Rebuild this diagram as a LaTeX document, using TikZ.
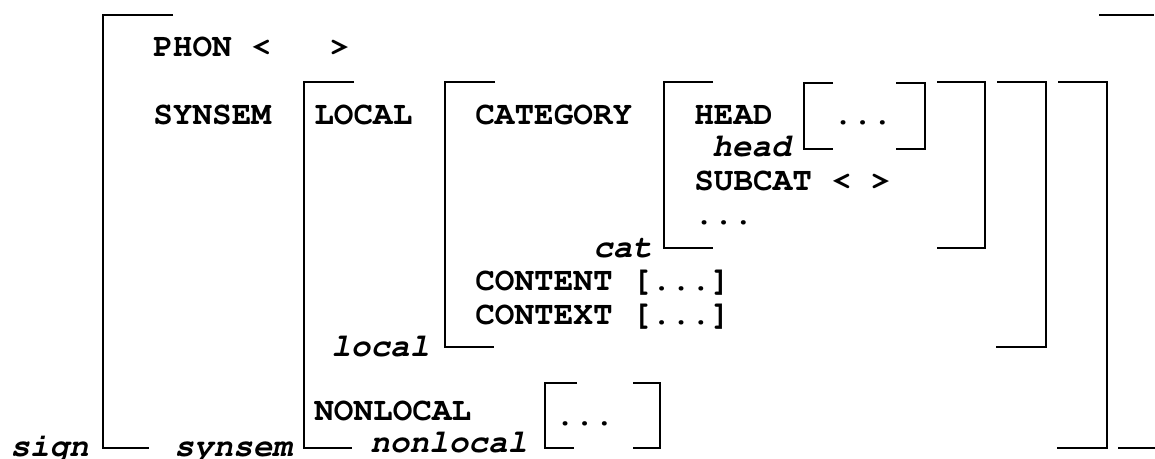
\documentclass[tikz,border=0pt]{standalone}
\usepackage[T1]{fontenc}
\usepackage{courier}

\begin{document}
\begin{tikzpicture}[
    x=0.02cm, y=-0.02cm,
    font=\ttfamily\bfseries\fontsize{18.6}{22}\selectfont,
    attr/.style={anchor=base west, inner sep=0pt},
    sort/.style={attr, font=\ttfamily\bfseries\slshape\fontsize{18.6}{22}\selectfont},
    brk/.style={line width=1.3pt}
  ]
  \useasboundingbox (0,0) rectangle (1155,459);

  % attribute names and values
  \node[attr] (phon) at (153,57) {PHON <\ \ \ >};
  \node[attr] (synsem) at (153,125) {SYNSEM};
  \node[attr] (local) at (314,125) {LOCAL};
  \node[attr] (category) at (475,125) {CATEGORY};
  \node[attr] (head) at (694,125) {HEAD};
  \node[attr] (headval) at (833,125) {...};
  \node[attr] (subcat) at (694,191) {SUBCAT < >};
  \node[attr] (catrest) at (694,224) {...};
  \node[attr] (content) at (475,290) {CONTENT [...]};
  \node[attr] (context) at (475,324) {CONTEXT [...]};
  \node[attr] (nonlocal) at (314,420) {NONLOCAL};
  \node[attr] (nonlocval) at (555,425) {...};

  % sorts
  \node[sort] (headsort) at (712,157) {head};
  \node[sort] (catsort) at (593,257) {cat};
  \node[sort] (localsort) at (331,356) {local};
  \node[sort] (nonlocalsort) at (370,452) {nonlocal};
  \node[sort] (signsort) at (10,456) {sign};
  \node[sort] (synsemsort) at (174,456) {synsem};

  % sign
  \draw[brk] (173,15) -| (103,448) -- (149,448);
  \draw[brk] (1099,15) -- (1154,15);
  \draw[brk] (1118,448) -- (1155,448);
  % synsem
  \draw[brk] (354,82) -| (304,448) -- (352,448);
  \draw[brk] (1058,82) -| (1107,448) -- (1057,448);
  % local
  \draw[brk] (495,82) -| (445,347) -- (494,347);
  \draw[brk] (997,82) -| (1046,347) -- (996,347);
  % cat
  \draw[brk] (713,82) -| (664,248) -- (713,248);
  \draw[brk] (937,82) -| (985,248) -- (937,248);
  % head
  \draw[brk] (833,83) -| (804,149) -- (833,149);
  \draw[brk] (896,83) -| (925,149) -- (896,149);
  % nonlocal
  \draw[brk] (577,383) -| (545,448) -- (574,448);
  \draw[brk] (633,383) -| (660,448) -- (633,448);
\end{tikzpicture}
\end{document}
